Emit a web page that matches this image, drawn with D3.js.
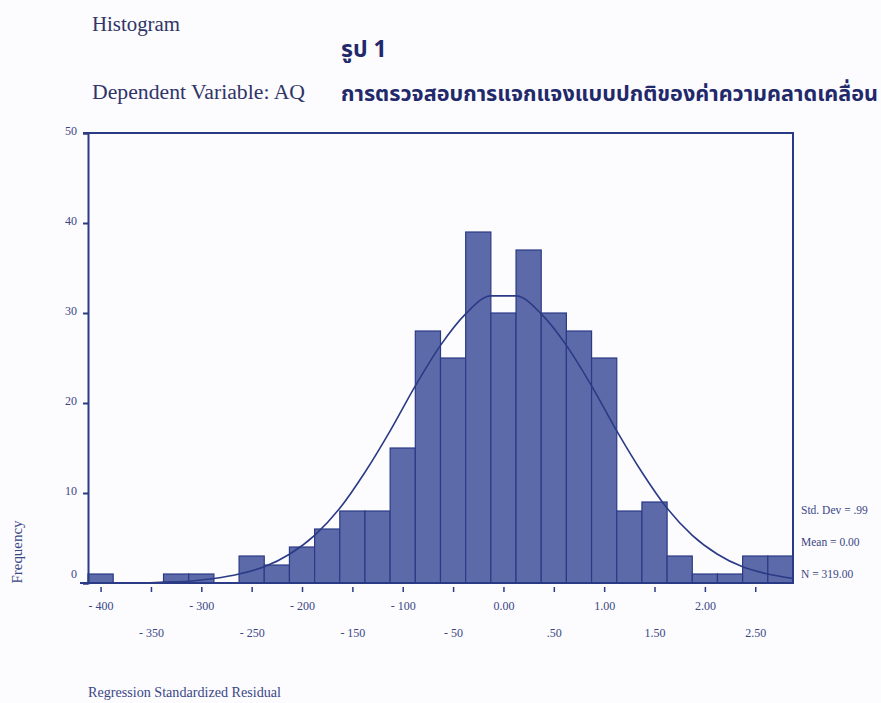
<!DOCTYPE html>
<html lang="th">
<head>
    <meta charset="UTF-8">
    <script src="https://d3js.org/d3.v7.min.js"></script>
    <style>
        body { margin: 0; background: #fcfbfe; }
        svg { display: block; }
    </style>
    <title>Histogram</title>
</head>
<body>

<div id="chart"></div>

<script>
    const width = 881;
    const height = 703;

    // bin centers (width .25) and counts
    const binCenters = [-4.00, -3.75, -3.50, -3.25, -3.00, -2.75, -2.50, -2.25, -2.00, -1.75,
        -1.50, -1.25, -1.00, -0.75, -0.50, -0.25, 0.00, 0.25, 0.50, 0.75,
        1.00, 1.25, 1.50, 1.75, 2.00, 2.25, 2.50, 2.75];
    const counts = [1, 0, 0, 1, 1, 0, 3, 2, 4, 6,
        8, 8, 15, 28, 25, 39, 30, 37, 30, 28,
        25, 8, 9, 3, 1, 1, 3, 3];
    const binWidth = 0.25;

    // normal curve at the bin edges
    const curveX = [-4.125, -3.875, -3.625, -3.375, -3.125, -2.875, -2.625, -2.375, -2.125, -1.875,
        -1.625, -1.375, -1.125, -0.875, -0.625, -0.375, -0.125, 0.125, 0.375, 0.625,
        0.875, 1.125, 1.375, 1.625, 1.875, 2.125, 2.375, 2.625, 2.875];
    const curveY = [0.0, 0.0, 0.0, 0.1, 0.2, 0.5, 1.0, 1.8, 3.2, 5.3,
        8.3, 12.3, 16.9, 21.9, 26.4, 29.9, 31.9, 31.9, 29.9, 26.4,
        21.9, 16.9, 12.3, 8.3, 5.3, 3.2, 1.8, 1.0, 0.5];

    const yTicks = [0, 10, 20, 30, 40, 50];
    const xTicks = [-4.0, -3.5, -3.0, -2.5, -2.0, -1.5, -1.0, -0.5, 0.0, 0.5, 1.0, 1.5, 2.0, 2.5];
    const xTickLabels = ["- 400", "- 350", "- 300", "- 250", "- 200", "- 150", "- 100", "- 50",
        "0.00", ".50", "1.00", "1.50", "2.00", "2.50"];
    const statLines = ["Std. Dev = .99", "Mean = 0.00", "N = 319.00"];

    const navy = "#2b3a85";
    const textCol = "#3a4785";
    const serif = "'Liberation Serif', 'Times New Roman', serif";
    const thai = "'Noto Sans Thai', 'Noto Sans', 'DejaVu Sans', sans-serif";

    const svg = d3.select("#chart")
        .append("svg")
        .attr("width", width)
        .attr("height", height);

    const x = d3.scaleLinear().domain([-4.125, 2.875]).range([88, 793]);
    const y = d3.scaleLinear().domain([0, 50]).range([583, 133]);

    // titles
    svg.append("text")
        .attr("x", 92).attr("y", 31)
        .attr("font-family", serif).attr("font-size", 20)
        .attr("fill", "#2f3566")
        .attr("textLength", 88).attr("lengthAdjust", "spacingAndGlyphs")
        .text("Histogram");
    svg.append("text")
        .attr("x", 92).attr("y", 99)
        .attr("font-family", serif).attr("font-size", 20)
        .attr("fill", "#2f3566")
        .attr("textLength", 213).attr("lengthAdjust", "spacingAndGlyphs")
        .text("Dependent Variable: AQ");
    svg.append("text")
        .attr("x", 341).attr("y", 57)
        .attr("font-family", thai).attr("font-size", 23).attr("font-weight", "bold")
        .attr("fill", "#22296b")
        .text("รูป 1");
    svg.append("text")
        .attr("x", 341).attr("y", 101)
        .attr("font-family", thai).attr("font-size", 21).attr("font-weight", "bold")
        .attr("fill", "#22296b")
        .attr("textLength", 537).attr("lengthAdjust", "spacingAndGlyphs")
        .text("การตรวจสอบการแจกแจงแบบปกติของค่าความคลาดเคลื่อน");

    // bars
    svg.selectAll(".bar")
        .data(binCenters)
        .enter().append("rect")
        .attr("class", "bar")
        .attr("x", d => x(d - binWidth / 2))
        .attr("width", d => x(d + binWidth / 2) - x(d - binWidth / 2))
        .attr("y", (d, i) => y(counts[i]))
        .attr("height", (d, i) => y(0) - y(counts[i]))
        .attr("fill", "#5d6aa9")
        .attr("stroke", navy)
        .attr("stroke-width", 1.2)
        .style("display", (d, i) => counts[i] > 0 ? null : "none");

    // normal curve
    const line = d3.line()
        .x(d => x(d[0]))
        .y(d => y(d[1]))
        .curve(d3.curveMonotoneX);
    svg.append("path")
        .datum(d3.zip(curveX, curveY))
        .attr("d", line)
        .attr("fill", "none")
        .attr("stroke", navy)
        .attr("stroke-width", 1.6);

    // frame: top, right, bottom
    svg.append("path")
        .attr("d", `M83,${y(50)}H${x(2.875)}V${y(0)}H80`)
        .attr("fill", "none")
        .attr("stroke", navy)
        .attr("stroke-width", 2);

    // left axis
    const yAxis = svg.append("g")
        .attr("transform", "translate(88,0)")
        .call(d3.axisLeft(y).tickValues(yTicks).tickSize(5).tickPadding(6));
    yAxis.select(".domain").attr("stroke", navy).attr("stroke-width", 2);
    yAxis.selectAll(".tick line").attr("stroke", navy).attr("stroke-width", 2);
    yAxis.selectAll(".tick text")
        .attr("font-family", serif).attr("font-size", 12)
        .attr("fill", textCol)
        .attr("dy", d => d === 0 ? "-0.45em" : "0.1em");

    // bottom axis, labels on two alternating rows
    const xAxis = svg.append("g")
        .attr("transform", "translate(0,587)")
        .call(d3.axisBottom(x).tickValues(xTicks).tickSize(5)
            .tickFormat((d, i) => xTickLabels[i]));
    xAxis.select(".domain").remove();
    xAxis.selectAll(".tick line").attr("stroke", navy).attr("stroke-width", 1.5);
    xAxis.selectAll(".tick text")
        .attr("font-family", serif).attr("font-size", 12)
        .attr("fill", textCol)
        .attr("y", (d, i) => i % 2 === 0 ? 23 : 50)
        .attr("dy", 0);

    // axis titles
    svg.append("text")
        .attr("transform", "translate(22,552) rotate(-90)")
        .attr("text-anchor", "middle")
        .attr("font-family", serif).attr("font-size", 14)
        .attr("fill", textCol)
        .attr("textLength", 63).attr("lengthAdjust", "spacingAndGlyphs")
        .text("Frequency");
    svg.append("text")
        .attr("x", 88).attr("y", 697)
        .attr("font-family", serif).attr("font-size", 14)
        .attr("fill", textCol)
        .attr("textLength", 193).attr("lengthAdjust", "spacingAndGlyphs")
        .text("Regression Standardized Residual");

    // stats
    svg.selectAll(".stat")
        .data(statLines)
        .enter().append("text")
        .attr("class", "stat")
        .attr("x", 801)
        .attr("y", (d, i) => 514 + i * 32)
        .attr("font-family", serif).attr("font-size", 11.5)
        .attr("fill", textCol)
        .text(d => d);
</script>

</body>
</html>
